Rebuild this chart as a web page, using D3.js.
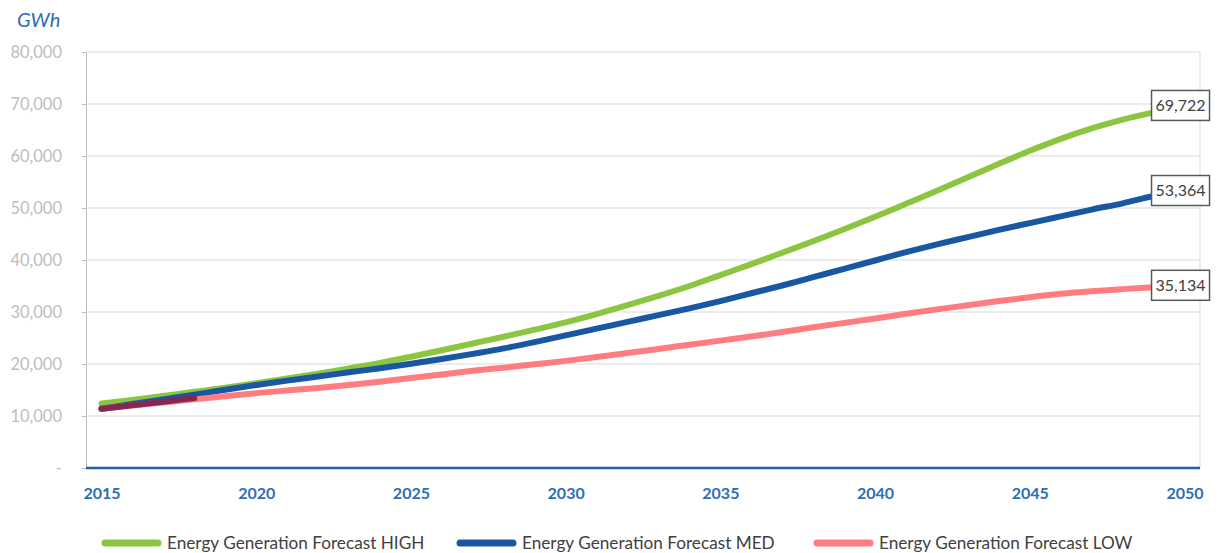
<!DOCTYPE html>
<html>
<head>
<meta charset="utf-8">
<script src="https://cdn.jsdelivr.net/npm/d3@7/dist/d3.min.js"></script>
<style>
  html, body { margin: 0; padding: 0; background: #fff; }
  svg { display: block; font-family: Lato, "Open Sans", sans-serif; }
</style>
</head>
<body>
<svg id="chart" width="1220" height="553"></svg>
<script>
// Annual generation, GWh
const years = d3.range(2015, 2051);
const actual = [11400, 12050, 12750, 13450];
const high = [12400, 13100, 13850, 14650, 15450, 16300, 17200, 18150, 19150, 20200,
  21400, 22650, 23950, 25250, 26600, 28000, 29600, 31300, 33100, 35000,
  37100, 39200, 41400, 43600, 45900, 48300, 50800, 53300, 55900, 58500,
  61000, 63300, 65300, 67000, 68400, 69722];
const med = [11400, 12300, 13200, 14100, 15050, 15950, 16800, 17600, 18400, 19200,
  20050, 20950, 21950, 23000, 24200, 25500, 26800, 28100, 29400, 30700,
  32100, 33600, 35100, 36700, 38300, 39900, 41500, 43000, 44400, 45800,
  47100, 48400, 49700, 50900, 52300, 53364];
const low = [11400, 12000, 12600, 13200, 13800, 14400, 14900, 15400, 15950, 16600,
  17300, 18000, 18700, 19300, 19950, 20600, 21350, 22100, 22900, 23700,
  24500, 25300, 26150, 27050, 27900, 28750, 29650, 30500, 31300, 32100,
  32850, 33500, 34000, 34400, 34750, 35134];
const yTicks = [0, 10000, 20000, 30000, 40000, 50000, 60000, 70000, 80000];
const xTickYears = [2015, 2020, 2025, 2030, 2035, 2040, 2045, 2050];
const seriesNames = ["Energy Generation Forecast HIGH", "Energy Generation Forecast MED", "Energy Generation Forecast LOW"];
const unitLabel = "GWh";

const series = [
  { name: seriesNames[0], values: high, color: "#8CC641", legend: true },
  { name: seriesNames[1], values: med, color: "#1A57A3", legend: true },
  { name: seriesNames[2], values: low, color: "#FF7D80", legend: true },
  { name: "Actual", values: actual, color: "#862655", legend: false }
];

const svg = d3.select("#chart");
const plotLeft = 86, plotRight = 1200, plotTop = 52, plotBottom = 468;

const x = d3.scalePoint().domain(years).range([plotLeft, plotRight]).padding(0.5);
const y = d3.scaleLinear().domain([0, 80000]).range([plotBottom, plotTop]);

// horizontal gridlines
svg.append("g")
  .selectAll("line")
  .data(yTicks.filter(d => d > 0))
  .join("line")
  .attr("x1", plotLeft).attr("x2", plotRight)
  .attr("y1", d => y(d)).attr("y2", d => y(d))
  .attr("stroke", "#D9D9D9").attr("stroke-width", 1);

// right border of plot area
svg.append("line")
  .attr("x1", plotRight).attr("x2", plotRight).attr("y1", plotTop).attr("y2", plotBottom)
  .attr("stroke", "#D9D9D9");

// value axis
const yAxis = svg.append("g")
  .attr("transform", `translate(${plotLeft},0)`)
  .call(d3.axisLeft(y).tickValues(yTicks)
    .tickFormat(d => d === 0 ? "-" : d3.format(",")(d))
    .tickSizeInner(4).tickSizeOuter(0).tickPadding(20));
yAxis.select(".domain").attr("stroke", "#BFBFBF");
yAxis.selectAll(".tick line").attr("stroke", "#BFBFBF");
yAxis.selectAll(".tick text")
  .attr("fill", "#BDBDBD").style("font-size", "16.5px").style("font-family", "Lato, sans-serif");

// category axis
const xAxis = svg.append("g")
  .attr("transform", `translate(0,${plotBottom})`)
  .call(d3.axisBottom(x).tickValues(xTickYears).tickSize(0).tickPadding(20));
xAxis.select(".domain").remove();
xAxis.selectAll(".tick text")
  .attr("fill", "#2E6DB4").style("font-size", "16px").style("font-weight", "bold")
  .style("font-family", "Lato, sans-serif");
svg.append("line")
  .attr("x1", plotLeft).attr("x2", plotRight).attr("y1", plotBottom).attr("y2", plotBottom)
  .attr("stroke", "#1F5FAA").attr("stroke-width", 2.5);

// unit label
svg.append("text")
  .attr("x", 17).attr("y", 27)
  .attr("fill", "#2E6DB4")
  .style("font-size", "20px").style("font-style", "italic")
  .text(unitLabel);

// series lines
const line = d3.line()
  .x((d, i) => x(years[i]))
  .y(d => y(d))
  .curve(d3.curveMonotoneX);

svg.append("g")
  .selectAll("path")
  .data(series)
  .join("path")
  .attr("d", s => line(s.values))
  .attr("fill", "none")
  .attr("stroke", s => s.color)
  .attr("stroke-width", 6)
  .attr("stroke-linecap", "round")
  .attr("stroke-linejoin", "round");

// end-of-period value labels
const labels = svg.append("g")
  .selectAll("g")
  .data(series.filter(s => s.legend))
  .join("g")
  .attr("transform", s => `translate(${x(years[years.length - 1])},${y(s.values[s.values.length - 1])})`);
labels.append("rect")
  .attr("x", -33).attr("y", -15).attr("width", 58).attr("height", 30)
  .attr("fill", "#fff").attr("stroke", "#595959").attr("stroke-width", 1.5);
labels.append("text")
  .attr("x", -4).attr("text-anchor", "middle").attr("dy", "0.36em")
  .attr("fill", "#404040").style("font-size", "16px")
  .text(s => d3.format(",")(s.values[s.values.length - 1]));

// legend
const legendX = [103, 458, 815];
const legend = svg.append("g")
  .selectAll("g")
  .data(series.filter(s => s.legend))
  .join("g")
  .attr("transform", (s, i) => `translate(${legendX[i]},543)`);
legend.append("line")
  .attr("x1", 2).attr("x2", 55)
  .attr("stroke", s => s.color).attr("stroke-width", 7).attr("stroke-linecap", "round");
legend.append("text")
  .attr("x", 64).attr("dy", "0.35em")
  .attr("fill", "#404040").style("font-size", "17.2px")
  .text(s => s.name);
</script>
</body>
</html>
